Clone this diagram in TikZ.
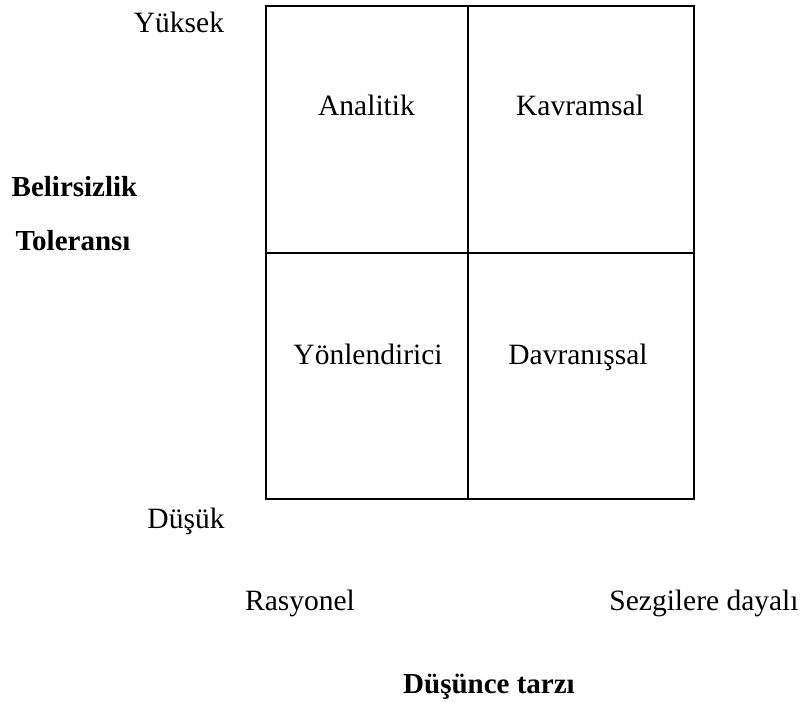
\documentclass[tikz,border=0pt]{standalone}
\usepackage{fontspec}
\setmainfont{Liberation Serif}
\begin{document}
\begin{tikzpicture}[x=1pt,y=-1pt,
  lbl/.style={anchor=base,inner sep=0pt,font=\fontsize{29.5}{34}\selectfont},
  axis/.style={anchor=base,inner sep=0pt,font=\fontsize{29}{34}\selectfont\bfseries},
  cell/.style={draw=black,line width=2pt}]
\useasboundingbox (0,0) rectangle (804,703);
% quadrant grid
\coordinate (tl) at (265.5,6);
\coordinate (br) at (694,499);
\draw[cell] (tl) rectangle (br);
\draw[cell] (468,6) -- (468,499);
\draw[cell] (265.5,253) -- (694,253);
% quadrant labels
\node[lbl] (an) at (366.5,116) {Analitik};
\node[lbl] (kv) at (580,116) {Kavramsal};
\node[lbl] (yo) at (368,365) {Yönlendirici};
\node[lbl] (dv) at (578,365) {Davranışsal};
% vertical axis
\node[lbl] (hi) at (179,33) {Yüksek};
\node[lbl] (lo) at (186,528) {Düşük};
\node[axis] (b1) at (74.5,197) {Belirsizlik};
\node[axis] (b2) at (73,251) {Toleransı};
% horizontal axis
\node[lbl] (ra) at (300,610) {Rasyonel};
\node[lbl] (se) at (704,610) {Sezgilere dayalı};
\node[axis] (dt) at (489,693) {Düşünce tarzı};
\end{tikzpicture}
\end{document}
